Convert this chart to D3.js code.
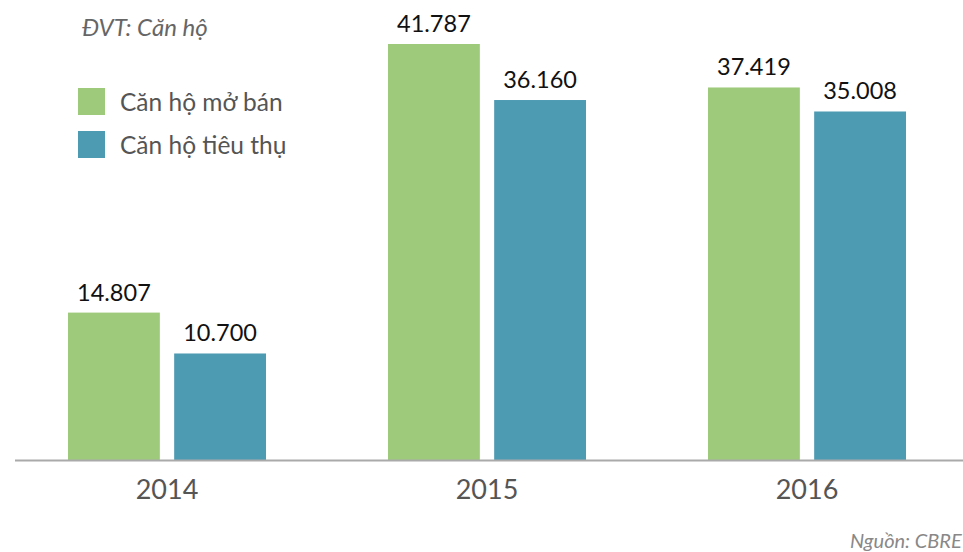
<!DOCTYPE html>
<html><head><meta charset="utf-8">
<script src="https://cdn.jsdelivr.net/npm/d3@7"></script>
<style>body{margin:0;background:#fff;overflow:hidden}svg{display:block}</style>
</head><body>
<script>
const years = ["2014", "2015", "2016"];
const seriesNames = ["Căn hộ mở bán", "Căn hộ tiêu thụ"];
const moBan = [14807, 41787, 37419];
const tieuThu = [10700, 36160, 35008];
const colors = ["#9dca7b", "#4d9bb3"];

const W = 963, H = 552;
const svg = d3.select("body").append("svg").attr("width", W).attr("height", H);
const font = "Lato, 'Open Sans', sans-serif";

const x0 = d3.scaleBand().domain(years).range([7, 967]).paddingInner(0.0).paddingOuter(0);
const x1 = d3.scaleBand().domain(seriesNames).range([61, 259]).paddingInner(0.135).paddingOuter(0);
const maxV = d3.max(moBan.concat(tieuThu));
const y = d3.scaleLinear().domain([0, maxV]).range([460, 44]);

const data = years.map((yr, i) => ({ yr, vals: [moBan[i], tieuThu[i]] }));

const g = svg.selectAll("g.grp").data(data).enter().append("g")
  .attr("transform", d => `translate(${x0(d.yr)},0)`);

g.selectAll("rect").data(d => d.vals.map((v, j) => ({ v, s: seriesNames[j], j })))
  .enter().append("rect")
  .attr("x", d => x1(d.s)).attr("width", x1.bandwidth())
  .attr("y", d => y(d.v)).attr("height", d => y(0) - y(d.v))
  .attr("fill", d => colors[d.j]);

const fmt = v => d3.format(",")(v).replace(/,/g, ".");
g.selectAll("text.val").data(d => d.vals.map((v, j) => ({ v, s: seriesNames[j] })))
  .enter().append("text")
  .attr("x", d => x1(d.s) + x1.bandwidth() / 2)
  .attr("y", d => y(d.v) - 12)
  .attr("text-anchor", "middle")
  .attr("font-family", font).attr("font-size", 23.5).attr("fill", "#111")
  .text(d => fmt(d.v));

// axis
const axis = d3.axisBottom(x0).tickSize(0).tickPadding(0);
const ax = svg.append("g").attr("transform", "translate(0,460)").call(axis);
ax.select(".domain").remove();
ax.selectAll("text").attr("font-family", font).attr("font-size", 27).attr("fill", "#555")
  .attr("dy", 0).attr("y", 39);
svg.append("line").attr("x1", 15).attr("x2", W).attr("y1", 460.5).attr("y2", 460.5)
  .attr("stroke", "#aaa").attr("stroke-width", 2);

// unit
svg.append("text").attr("x", 82).attr("y", 36).attr("font-family", font)
  .attr("font-style", "italic").attr("font-size", 24).attr("fill", "#666").text("ĐVT: Căn hộ");

// legend
const leg = svg.selectAll("g.leg").data(seriesNames).enter().append("g")
  .attr("transform", (d, i) => `translate(78,${88 + i * 43})`);
leg.append("rect").attr("width", 27).attr("height", 27).attr("fill", (d, i) => colors[i]);
leg.append("text").attr("x", 42).attr("y", 23).attr("font-family", font)
  .attr("font-size", 24.5).attr("fill", "#555").text(d => d);

// source
svg.append("text").attr("x", 850).attr("y", 548).attr("font-family", font)
  .attr("font-style", "italic").attr("font-size", 20).attr("fill", "#888").text("Nguồn: CBRE");
</script>
</body></html>
